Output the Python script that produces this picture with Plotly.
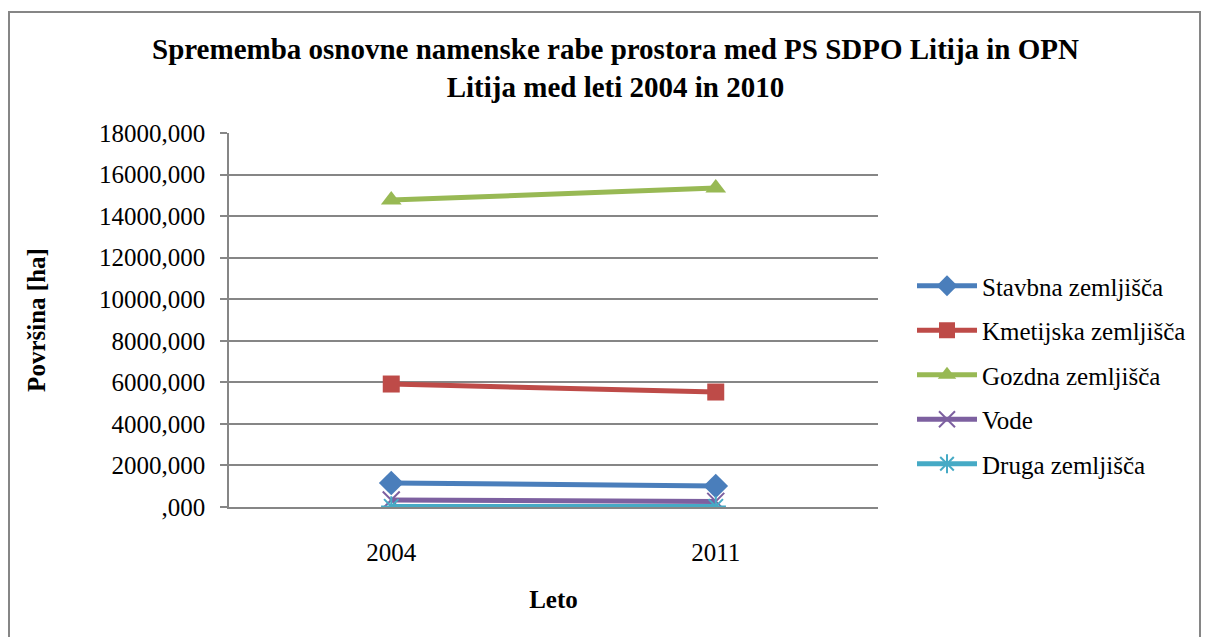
import plotly.graph_objects as go

# Data: land-use area (ha) per category
years = ["2004", "2011"]
stavbna = [1155, 1010]
kmetijska = [5919, 5534]
gozdna = [14774, 15351]
vode = [340, 270]
druga = [30, 30]

series_names = ["Stavbna zemljišča", "Kmetijska zemljišča", "Gozdna zemljišča", "Vode", "Druga zemljišča"]
series_values = [stavbna, kmetijska, gozdna, vode, druga]
colors = ["#4A7EBB", "#BE4B48", "#98B954", "#7D60A0", "#46AAC5"]
symbols = ["diamond", "square", "triangle-up", "x-thin-open", "asterisk-open"]
marker_sizes = [19, 17, 18, 17, 17]

tick_vals = [0, 2000, 4000, 6000, 8000, 10000, 12000, 14000, 16000, 18000]
tick_text = [",000", "2000,000", "4000,000", "6000,000", "8000,000", "10000,000",
             "12000,000", "14000,000", "16000,000", "18000,000"]

FONT = "Liberation Serif, Times New Roman, serif"

fig = go.Figure()
for i, (name, vals, col, sym, ms) in enumerate(zip(series_names, series_values, colors, symbols, marker_sizes)):
    open_sym = sym.endswith("open")
    fig.add_trace(go.Scatter(
        x=years, y=vals, name=name, mode="lines+markers", legendgroup=f"g{i}",
        line=dict(color=col, width=5),
        marker=dict(symbol=sym, size=ms, color=col,
                    line=dict(color=col, width=2 if open_sym else 0)),
    ))

W, H = 1208, 637
L, R, T, B = 229, 330, 133, 130
pw, ph = W - L - R, H - T - B

def px(x):
    return (x - L) / pw

def py(y):
    return (H - B - y) / ph

fig.update_layout(
    width=W, height=H,
    margin=dict(l=L, r=R, t=T, b=B, autoexpand=False),
    paper_bgcolor="white", plot_bgcolor="white",
    font=dict(family=FONT, size=25, color="black"),
    showlegend=True,
    legend=dict(x=px(912), y=py(375), xanchor="left", yanchor="middle",
                font=dict(family=FONT, size=25), tracegroupgap=9,
                itemwidth=60, bgcolor="rgba(0,0,0,0)"),
    xaxis=dict(type="category", range=[-0.5, 1.5], showgrid=False,
               showline=True, linecolor="#868686", linewidth=1.5,
               ticks="", tickfont=dict(family=FONT, size=25), zeroline=False,
               ticklabelstandoff=22,
               title=dict(text="<b>Leto</b>", font=dict(family=FONT, size=25), standoff=26)),
    yaxis=dict(range=[0, 18000], tickvals=tick_vals, ticktext=tick_text,
               showgrid=True, gridcolor="#868686", gridwidth=1.5,
               showline=True, linecolor="#868686", linewidth=1.5,
               ticks="outside", ticklen=7, tickcolor="#868686", tickwidth=1.5,
               tickfont=dict(family=FONT, size=25), zeroline=False,
               ticklabelstandoff=10,
               title=dict(text="<b>Površina [ha]</b>", font=dict(family=FONT, size=25), standoff=46)),
)

fig.add_annotation(
    text="<b>Sprememba osnovne namenske rabe prostora med PS SDPO Litija in OPN<br>Litija med leti 2004 in 2010</b>",
    xref="paper", yref="paper", x=px(615), y=py(68), xanchor="center", yanchor="middle",
    showarrow=False, font=dict(family=FONT, size=29, color="black"), align="center",
)

# Chart-area border
fig.add_shape(type="rect", xref="paper", yref="paper",
              x0=px(9), x1=px(1200), y0=py(645), y1=py(12),
              line=dict(color="#868686", width=2), fillcolor="rgba(0,0,0,0)", layer="below")

fig.write_html("out.html")
